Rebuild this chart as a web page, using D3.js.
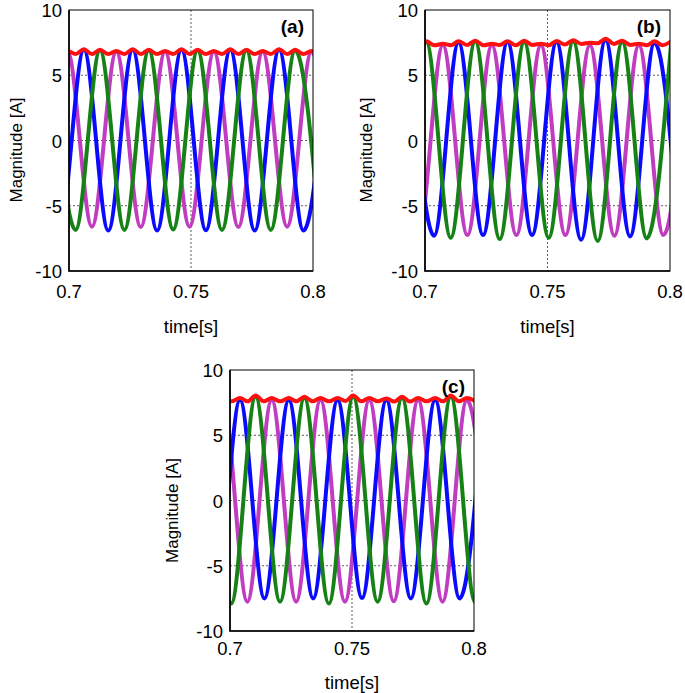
<!DOCTYPE html>
<html>
<head>
<meta charset="utf-8">
<script src="https://cdn.jsdelivr.net/npm/d3@7"></script>
<style>
  body { margin: 0; background: #fff; }
  text { font-family: "Liberation Sans", Arial, sans-serif; fill: #000; }
</style>
</head>
<body>
<svg id="main" width="685" height="693"></svg>
<script>
// axis ticks / labels
const timeTicks = [0.7, 0.75, 0.8];
const valueTicks = [-10, -5, 0, 5, 10];
const gridValues = [-5, 0, 5];
const gridTimes = [0.75];
const panelNames = ['(a)', '(b)', '(c)'];

// extrema [time, value], panel (a)
const a_magenta = [[0.6894,-6.6],[0.6994,6.8],[0.7094,-6.6],[0.7194,6.8],[0.7294,-6.62],[0.7394,6.8],[0.7494,-6.6],[0.7594,6.8],[0.7694,-6.62],[0.7794,6.8],[0.7894,-6.6],[0.7994,6.8],[0.8094,-6.6]];
const a_blue = [[0.6861,6.95],[0.6961,-6.9],[0.7061,6.95],[0.7161,-6.9],[0.7261,6.95],[0.7361,-6.9],[0.7461,6.95],[0.7561,-6.88],[0.7661,6.95],[0.7761,-6.9],[0.7861,6.95],[0.7961,-6.9],[0.8061,6.95]];
const a_green = [[0.6927,6.9],[0.7027,-6.85],[0.7127,6.9],[0.7227,-6.85],[0.7327,6.9],[0.7427,-6.82],[0.7527,6.9],[0.7627,-6.85],[0.7727,6.9],[0.7827,-6.85],[0.7927,6.9],[0.8027,-6.85]];
const a_red = [[0.6961,6.62],[0.6994,6.85],[0.7027,6.62],[0.7061,7.0],[0.7094,6.62],[0.7127,6.95],[0.7161,6.62],[0.7194,6.85],[0.7227,6.62],[0.7261,7.0],[0.7294,6.62],[0.7327,6.95],[0.7361,6.62],[0.7394,6.85],[0.7427,6.62],[0.7461,7.0],[0.7494,6.62],[0.7527,6.95],[0.7561,6.62],[0.7594,6.85],[0.7627,6.62],[0.7661,7.0],[0.7694,6.62],[0.7727,6.95],[0.7761,6.62],[0.7794,6.85],[0.7827,6.62],[0.7861,7.0],[0.7894,6.62],[0.7927,6.95],[0.7961,6.62],[0.7994,6.85],[0.8027,6.62]];

// panel (b)
const b_magenta = [[0.6873,7.3],[0.6973,-7.25],[0.7073,7.3],[0.7173,-7.25],[0.7273,7.3],[0.7373,-7.25],[0.7473,7.3],[0.7573,-7.25],[0.7673,7.3],[0.7773,-7.3],[0.7873,7.3],[0.7973,-7.25],[0.8073,7.3]];
const b_blue = [[0.6937,7.5],[0.7037,-7.3],[0.7137,7.5],[0.7237,-7.25],[0.7337,7.55],[0.7437,-7.25],[0.7537,7.55],[0.7637,-7.6],[0.7737,7.7],[0.7837,-7.35],[0.7937,7.5],[0.8037,-7.3]];
const b_green = [[0.6805,7.55],[0.6905,-7.45],[0.7005,7.55],[0.7105,-7.45],[0.7205,7.6],[0.7305,-7.55],[0.7405,7.55],[0.7505,-7.45],[0.7605,7.6],[0.7705,-7.7],[0.7805,7.55],[0.7905,-7.5],[0.8005,7.55]];
const b_red = [[0.6937,7.6],[0.6971,7.32],[0.7005,7.6],[0.7039,7.3],[0.7073,7.42],[0.7105,7.3],[0.7137,7.6],[0.7171,7.32],[0.7205,7.65],[0.7239,7.3],[0.7273,7.42],[0.7305,7.32],[0.7337,7.6],[0.7371,7.3],[0.7405,7.65],[0.7439,7.32],[0.7473,7.42],[0.7505,7.3],[0.7537,7.62],[0.7571,7.35],[0.7605,7.68],[0.7639,7.4],[0.7673,7.5],[0.7705,7.45],[0.7737,7.8],[0.7771,7.4],[0.7805,7.65],[0.7839,7.32],[0.7873,7.42],[0.7905,7.3],[0.7937,7.6],[0.7971,7.3],[0.8005,7.62]];

// panel (c)
const c_magenta = [[0.6871,-7.75],[0.6971,7.7],[0.7071,-7.75],[0.7171,7.7],[0.7271,-7.75],[0.7371,7.7],[0.7471,-7.75],[0.7571,7.7],[0.7671,-7.72],[0.7771,7.7],[0.7871,-7.75],[0.7971,7.7],[0.8071,-7.75]];
const c_blue = [[0.6841,7.7],[0.6941,-7.5],[0.7041,7.7],[0.7141,-7.5],[0.7241,7.7],[0.7341,-7.5],[0.7441,7.7],[0.7541,-7.48],[0.7641,7.7],[0.7741,-7.5],[0.7841,7.7],[0.7941,-7.5],[0.8041,7.7]];
const c_green = [[0.6905,7.9],[0.7005,-7.9],[0.7105,7.95],[0.7205,-7.75],[0.7305,7.85],[0.7405,-7.9],[0.7505,7.95],[0.7605,-7.75],[0.7705,7.85],[0.7805,-7.9],[0.7905,7.95],[0.8005,-7.8],[0.8105,7.9]];
const c_red = [[0.6941,7.6],[0.6971,7.85],[0.7006,7.6],[0.7041,7.85],[0.7073,7.6],[0.7105,8.05],[0.7138,7.6],[0.7171,7.85],[0.7206,7.6],[0.7241,7.85],[0.7273,7.6],[0.7305,7.95],[0.7338,7.6],[0.7371,7.85],[0.7406,7.6],[0.7441,7.85],[0.7473,7.62],[0.7505,8.05],[0.7538,7.6],[0.7571,7.85],[0.7606,7.6],[0.7641,7.82],[0.7673,7.58],[0.7705,7.95],[0.7738,7.58],[0.7771,7.85],[0.7806,7.6],[0.7841,7.85],[0.7873,7.6],[0.7905,8.05],[0.7938,7.6],[0.7971,7.85],[0.8006,7.6]];

const colors = { magenta: '#c03cc0', blue: '#0a0aff', green: '#168216', red: '#ff1010' };

const panels = [
  { name: panelNames[0], x0: 69, x1: 313, y0: 10, y1: 271, tickDy: 27, titleDy: 62, ylx: 16.5, yly: 150,
    series: [[a_magenta, colors.magenta], [a_blue, colors.blue], [a_green, colors.green], [a_red, colors.red]] },
  { name: panelNames[1], x0: 425, x1: 670, y0: 10, y1: 271, tickDy: 27, titleDy: 62, ylx: 365.7, yly: 150,
    series: [[b_magenta, colors.magenta], [b_blue, colors.blue], [b_green, colors.green], [b_red, colors.red]] },
  { name: panelNames[2], x0: 230, x1: 474, y0: 370, y1: 631, tickDy: 24, titleDy: 57.5, ylx: 171.7, yly: 510.5,
    series: [[c_magenta, colors.magenta], [c_blue, colors.blue], [c_green, colors.green], [c_red, colors.red]] },
];

const svg = d3.select('#main');
svg.append('rect').attr('width', 685).attr('height', 693).attr('fill', '#fff');

panels.forEach((p, i) => {
  const x = d3.scaleLinear().domain([0.7, 0.8]).range([p.x0, p.x1]);
  const y = d3.scaleLinear().domain([-10, 10]).range([p.y1, p.y0]);
  const g = svg.append('g');

  // grid
  g.selectAll('.hgrid').data(gridValues).join('line')
    .attr('x1', p.x0).attr('x2', p.x1)
    .attr('y1', d => y(d)).attr('y2', d => y(d))
    .attr('stroke', '#333').attr('stroke-width', 0.8).attr('stroke-dasharray', '2,2');
  g.selectAll('.vgrid').data(gridTimes).join('line')
    .attr('y1', p.y0).attr('y2', p.y1)
    .attr('x1', d => x(d)).attr('x2', d => x(d))
    .attr('stroke', '#333').attr('stroke-width', 0.8).attr('stroke-dasharray', '2,2');

  // clip
  const clipId = 'clip' + i;
  svg.append('clipPath').attr('id', clipId).append('rect')
    .attr('x', p.x0).attr('y', p.y0 - 2).attr('width', p.x1 - p.x0).attr('height', p.y1 - p.y0 + 2);

  const line = d3.line()
    .x(d => x(d[0])).y(d => y(d[1]))
    .curve(d3.curveMonotoneX);

  g.append('g').attr('clip-path', `url(#${clipId})`)
    .selectAll('path').data(p.series).join('path')
    .attr('d', d => line(d[0]))
    .attr('fill', 'none')
    .attr('stroke', d => d[1])
    .attr('stroke-width', 4)
    .attr('stroke-linejoin', 'round');

  // box
  g.append('rect')
    .attr('x', p.x0).attr('y', p.y0).attr('width', p.x1 - p.x0).attr('height', p.y1 - p.y0)
    .attr('fill', 'none').attr('stroke', '#000').attr('stroke-width', 1);
  g.append('path')
    .attr('d', `M${p.x0},${p.y0}V${p.y1}H${p.x1}`)
    .attr('fill', 'none').attr('stroke', '#000').attr('stroke-width', 1.6);

  // tick labels
  g.selectAll('.yt').data(valueTicks).join('text')
    .attr('x', p.x0 - 7).attr('y', d => y(d)).attr('dy', '0.38em')
    .attr('text-anchor', 'end').attr('font-size', 18.5)
    .text(d => String(d));
  g.selectAll('.xt').data(timeTicks).join('text')
    .attr('x', d => x(d)).attr('y', p.y1 + p.tickDy)
    .attr('text-anchor', 'middle').attr('font-size', 18.5)
    .text(d => d);

  // axis titles
  g.append('text')
    .attr('x', (p.x0 + p.x1) / 2).attr('y', p.y1 + p.titleDy)
    .attr('text-anchor', 'middle').attr('font-size', 18.5)
    .text('time[s]');
  g.append('text')
    .attr('transform', `translate(${p.ylx},${p.yly}) rotate(-90)`)
    .attr('dy', '0.35em')
    .attr('text-anchor', 'middle').attr('font-size', 17)
    .text('Magnitude [A]');

  // panel label
  g.append('text')
    .attr('x', p.x1 - 9).attr('y', p.y0 + 23)
    .attr('text-anchor', 'end').attr('font-size', 19).attr('font-weight', 'bold')
    .text(p.name);
});
</script>
</body>
</html>
